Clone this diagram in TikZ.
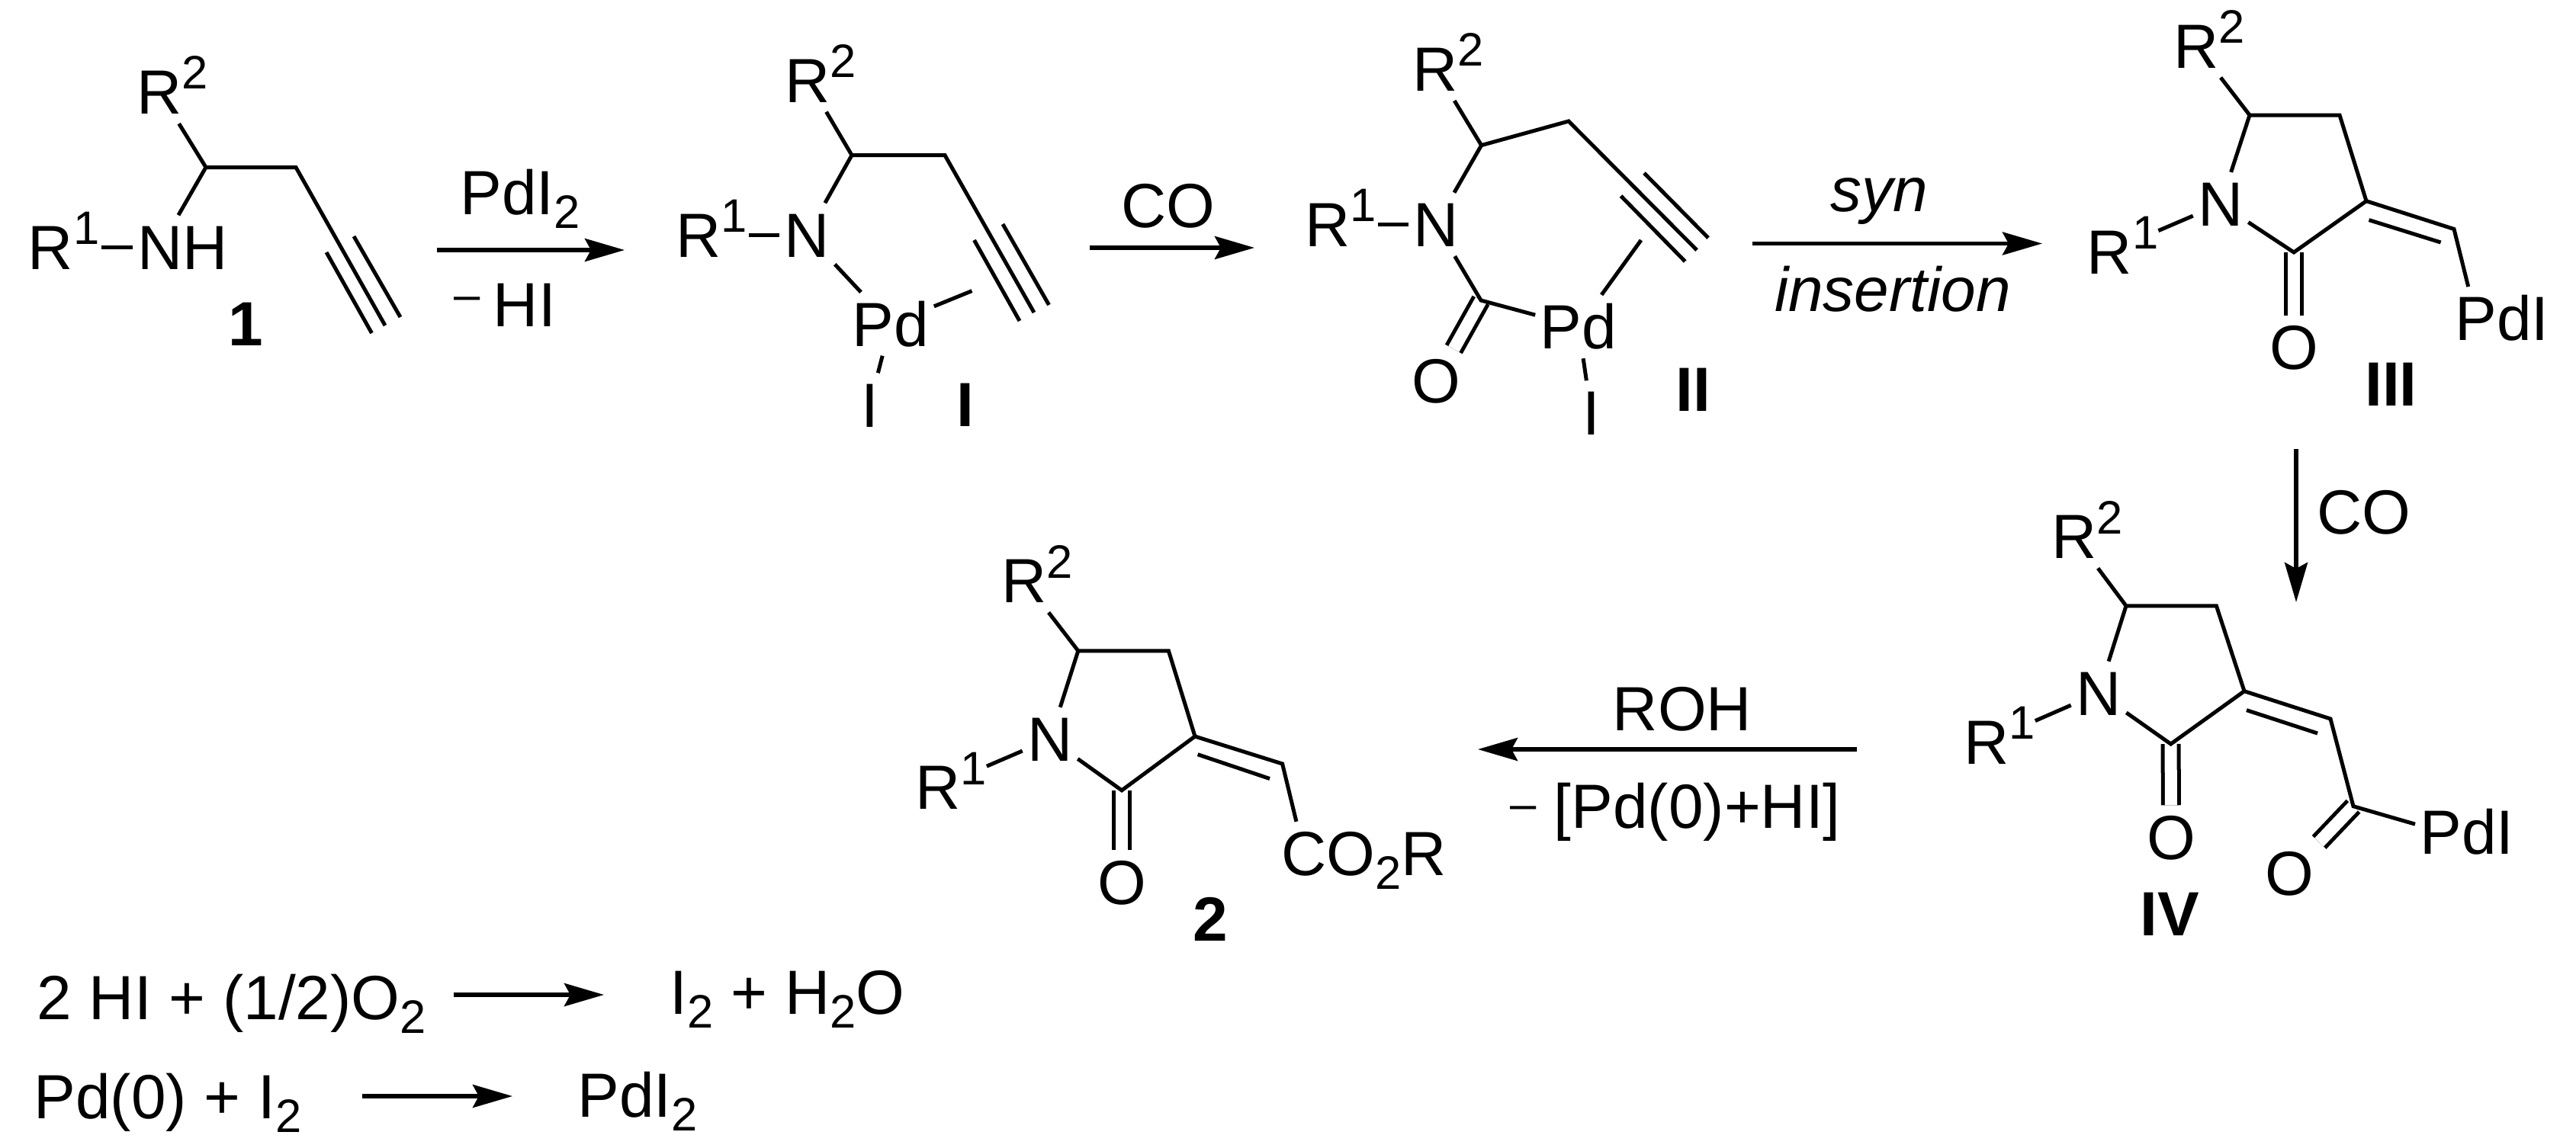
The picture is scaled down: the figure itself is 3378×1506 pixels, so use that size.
\documentclass[tikz,border=0pt]{standalone}
\usepackage{fontspec}
\setmainfont{Liberation Sans}
\usetikzlibrary{arrows.meta, positioning}
\newcommand{\chemfont}{\fontsize{23.3}{23.3}\selectfont}
\newcommand{\smallfont}{\fontsize{17.5}{17.5}\selectfont}
\newcommand{\up}[1]{\raisebox{.325cm}{\smallfont #1}}
\newcommand{\dn}[1]{\raisebox{-.18cm}{\smallfont #1}}
\newcommand{\Rn}[1]{R\rlap{\up{#1}}}
\tikzstyle{atom} = [font=\chemfont, inner xsep=.06cm, inner ysep=.12cm, text height=.58cm, text depth=0cm]
\tikzstyle{txt} = [font=\chemfont, inner sep=0pt, anchor=base]
\tikzstyle{txtw} = [txt, anchor=base west]
\tikzstyle{cmpd} = [txt, font=\chemfont\bfseries]
\tikzstyle{bond} = [line width=.05cm]
\tikzstyle{sbond} = [bond, shorten <=.3cm]
\tikzstyle{dbond} = [line width=.05cm, double, double distance=.16cm]
\tikzstyle{rxn} = [line width=.055cm, -{Stealth[length=.52cm,width=.3cm,inset=.08cm]}]
\begin{document}
\begin{tikzpicture}[x=.01cm, y=-.01cm]
	\useasboundingbox (0,0) rectangle (3378,1506);
	% amine 1
	\node[atom] (r2a) at (209,120.5) {\Rn{2}};
	\node[atom] (r1a) at (66.5,324) {\Rn{1}};
	\node[atom] (na) at (210,324) {N\rlap{H}};
	\coordinate (a1) at (270,219.5);
	\coordinate (a2) at (388,219.5);
	\coordinate (a3) at (505,427);
	\coordinate (a4) at (428,331);
	\coordinate (a5) at (487.5,437);
	\coordinate (a6) at (464,310);
	\coordinate (a7) at (525,416);
	\draw[bond] (r2a) -- (a1) -- (na);
	\draw[bond] (a1) -- (a2) -- (a3);
	\draw[bond] (a4) -- (a5);
	\draw[bond] (a6) -- (a7);
	\draw[sbond] (r1a) -- (na);
	\node[cmpd] (la) at (322,453) {1};
	% first arrow
	\coordinate (s1) at (573,328);
	\coordinate (e1) at (819,328);
	\draw[rxn] (s1) -- (e1);
	\node[txtw] (pdi) at (603,281) {PdI\dn{2}};
	\node[txtw] (hi) at (595,428) {\raisebox{.2cm}{\smallfont\textendash}\hspace{.17cm}HI};
	% complex I
	\node[atom] (r2b) at (1059,105) {\Rn{2}};
	\node[atom] (r1b) at (916,308) {\Rn{1}};
	\node[atom] (nb) at (1058.5,308) {N};
	\node[atom] (pdb) at (1168,425) {Pd};
	\node[atom] (ib) at (1140.5,531) {I};
	\coordinate (b1) at (1117,203.6);
	\coordinate (b2) at (1239,203.6);
	\coordinate (b3) at (1356,410);
	\coordinate (b4) at (1277.5,315);
	\coordinate (b5) at (1337,421);
	\coordinate (b6) at (1315,294);
	\coordinate (b7) at (1375.5,400);
	\coordinate (b8) at (1274.5,381.6);
	\draw[bond] (r2b) -- (b1) -- (nb);
	\draw[bond] (b1) -- (b2) -- (b3);
	\draw[bond] (b4) -- (b5);
	\draw[bond] (b6) -- (b7);
	\draw[sbond] (r1b) -- (nb);
	\draw[bond] (nb) -- (pdb);
	\draw[bond] (pdb) -- (b8);
	\draw[bond] (pdb) -- (ib);
	\node[cmpd] (lb) at (1266,559) {I};
	% second arrow
	\coordinate (s2) at (1429,325);
	\coordinate (e2) at (1645,325);
	\draw[rxn] (s2) -- (e2);
	\node[txt] (co1) at (1532,298.5) {CO};
	% complex II
	\node[atom] (r2c) at (1882,90.4) {\Rn{2}};
	\node[atom] (r1c) at (1740.6,294.4) {\Rn{1}};
	\node[atom] (nc) at (1883,294.4) {N};
	\node[atom] (pdc) at (2070,428.5) {Pd};
	\node[atom] (oc) at (1883,499.7) {O};
	\node[atom] (ic) at (2086.5,541) {I};
	\coordinate (c1) at (1942.6,190.6);
	\coordinate (c2) at (2057,159);
	\coordinate (c3) at (1942,394);
	\coordinate (c4) at (2225,328);
	\coordinate (c5) at (2125.5,257);
	\coordinate (c6) at (2209.7,343);
	\coordinate (c7) at (2156,227);
	\coordinate (c8) at (2240,312);
	\coordinate (c9) at (2152,315);
	\draw[dbond] (c3) -- (oc);
	\draw[bond] (r2c) -- (c1) -- (nc);
	\draw[bond] (c1) -- (c2) -- (c4);
	\draw[bond] (c5) -- (c6);
	\draw[bond] (c7) -- (c8);
	\draw[sbond] (r1c) -- (nc);
	\draw[bond] (nc) -- (c3) -- (pdc);
	\draw[bond] (pdc) -- (c9);
	\draw[bond] (pdc) -- (ic);
	\node[cmpd] (lc) at (2220.5,539.7) {II};
	% third arrow
	\coordinate (s3) at (2298,319.5);
	\coordinate (e3) at (2678,319.5);
	\draw[rxn] (s3) -- (e3);
	\node[txt] (syn) at (2464,277) {\itshape syn};
	\node[txt] (ins) at (2482,408.5) {\itshape insertion};
	% lactam III
	\node[atom] (r2d) at (2880,60) {\Rn{2}};
	\node[atom] (r1d) at (2766.5,330) {\Rn{1}};
	\node[atom] (nd) at (2912,267.6) {N};
	\node[atom] (od) at (3008,455.4) {O};
	\node[atom] (pdd) at (3247,417.8) {P\rlap{dI}};
	\coordinate (d5) at (2950,151);
	\coordinate (d4) at (3068,151);
	\coordinate (d3) at (3103,263.7);
	\coordinate (d2) at (3008,331);
	\coordinate (d6) at (3218,300.5);
	\coordinate (d7) at (3106.5,288.6);
	\coordinate (d8) at (3200.6,318);
	\draw[dbond] (d2) -- (od);
	\draw[bond] (r2d) -- (d5);
	\draw[bond] (nd) -- (d5) -- (d4) -- (d3) -- (d2) -- (nd);
	\draw[sbond] (r1d) -- (nd);
	\draw[bond] (d3) -- (d6) -- (pdd);
	\draw[bond] (d7) -- (d8);
	\node[cmpd] (ld) at (3135.5,532.6) {III};
	% fourth arrow
	\coordinate (s4) at (3011,589);
	\coordinate (e4) at (3011,790);
	\draw[rxn] (s4) -- (e4);
	\node[txtw] (co2) at (3038,700) {CO};
	% acyl IV
	\node[atom] (r2e) at (2720,703.7) {\Rn{2}};
	\node[atom] (r1e) at (2605,973.4) {\Rn{1}};
	\node[atom] (ne) at (2752,909.3) {N};
	\node[atom] (oe) at (2847,1098) {O};
	\node[atom] (ox) at (3002.5,1145.4) {O};
	\node[atom] (pde) at (3201,1091) {P\rlap{dI}};
	\coordinate (e5c) at (2788,794.8);
	\coordinate (e4c) at (2906.4,794.8);
	\coordinate (e3c) at (2943,906.7);
	\coordinate (e2c) at (2846.6,976);
	\coordinate (e6c) at (3056,943);
	\coordinate (e7c) at (2946,931.6);
	\coordinate (e8c) at (3039,962);
	\coordinate (e9c) at (3086,1057.7);
	\draw[dbond] (e2c) -- (oe);
	\draw[dbond] (e9c) -- (ox);
	\draw[bond] (r2e) -- (e5c);
	\draw[bond] (ne) -- (e5c) -- (e4c) -- (e3c) -- (e2c) -- (ne);
	\draw[sbond] (r1e) -- (ne);
	\draw[bond] (e3c) -- (e6c) -- (e9c) -- (pde);
	\draw[bond] (e7c) -- (e8c);
	\node[cmpd] (le) at (2845,1227.8) {IV};
	% fifth arrow
	\coordinate (s5) at (2435,983);
	\coordinate (e5) at (1938,983);
	\draw[rxn] (s5) -- (e5);
	\node[txt] (roh) at (2206,958) {ROH};
	\node[txtw] (pdhi) at (1980,1086.5) {\raisebox{.115cm}{\smallfont\textendash}\hspace{.23cm}[Pd(0)+HI]};
	% product 2
	\node[atom] (r2f) at (1343,761.7) {\Rn{2}};
	\node[atom] (r1f) at (1230,1032.6) {\Rn{1}};
	\node[atom] (nf) at (1377,969.5) {N};
	\node[atom] (of) at (1471,1157) {O};
	\node[atom] (cf) at (1710,1119.5) {C\rlap{O\dn{2}R}};
	\coordinate (f5) at (1413.8,853.8);
	\coordinate (f4) at (1532.4,853.8);
	\coordinate (f3) at (1567,966);
	\coordinate (f2) at (1471,1036.8);
	\coordinate (f6) at (1681.6,1002);
	\coordinate (f7) at (1570.6,989.7);
	\coordinate (f8) at (1665,1021.5);
	\draw[dbond] (f2) -- (of);
	\draw[bond] (r2f) -- (f5);
	\draw[bond] (nf) -- (f5) -- (f4) -- (f3) -- (f2) -- (nf);
	\draw[sbond] (r1f) -- (nf);
	\draw[bond] (f3) -- (f6) -- (cf);
	\draw[bond] (f7) -- (f8);
	\node[cmpd] (lf) at (1587,1234.6) {2};
	% regeneration
	\node[txtw] (hio) at (48,1337) {2 HI + (1/2)O\dn{2}};
	\node[txtw] (iw) at (878,1330.7) {I\dn{2} + H\dn{2}O};
	\coordinate (s6) at (595,1305);
	\coordinate (e6) at (792,1305);
	\draw[rxn] (s6) -- (e6);
	\node[txtw] (pdz) at (44,1467.5) {Pd(0) + I\dn{2}};
	\node[txtw] (pdn) at (757,1465) {PdI\dn{2}};
	\coordinate (s7) at (475,1438);
	\coordinate (e7) at (672,1438);
	\draw[rxn] (s7) -- (e7);
\end{tikzpicture}
\end{document}
